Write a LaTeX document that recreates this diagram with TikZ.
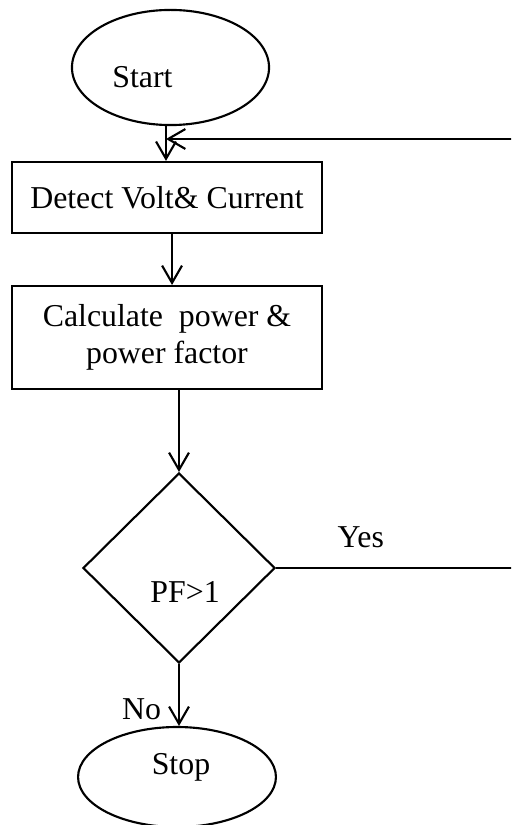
\documentclass[tikz,border=0pt]{standalone}
\usepackage{fontspec}
\setmainfont{Liberation Serif}
\usetikzlibrary{arrows.meta,shapes.geometric}

\begin{document}
\begin{tikzpicture}[x=0.377pt, y=-0.377pt, line width=0.8pt,
  every node/.style={font=\fontsize{12}{13.8}\selectfont},
  term/.style={draw, ellipse, inner sep=0pt},
  box/.style={draw, rectangle, align=center, inner sep=0pt, minimum width=116.9pt},
  decide/.style={draw, diamond, inner sep=0pt, minimum width=72.4pt, minimum height=71.6pt},
  arr/.style={-{Straight Barb[length=6.5pt,width=7.5pt]}}]
\useasboundingbox (0,0) rectangle (511,825);
\clip (0,0) rectangle (511,825);
\node[term, minimum width=74.3pt, minimum height=43.4pt,
  label={[xshift=-10.6pt, yshift=-3.6pt]center:Start}] (st) at (170.5,67.5) {};
\node[box, minimum height=26.8pt] (b1) at (167,197.5) {Detect Volt\& Current};
\node[box, minimum height=38.8pt] (b2) at (167,337.5) {Calculate\ \ power \&\\power factor};
\node[decide, label={[xshift=2.3pt, yshift=-8.9pt]center:PF>1}] (dec) at (179,568) {};
\node[term, minimum width=74.6pt, minimum height=37.7pt,
  label={[xshift=1.5pt, yshift=3.5pt]center:Stop}] (sp) at (177,777) {};
\coordinate (join) at (166,139);
\coordinate (rt) at (518,139);
% main flow
\draw[arr] (st.south -| join) -- (b1.north -| join);
\draw[arr] ([xshift=1.9pt]b1.south) -- ([xshift=1.9pt]b2.north);
\draw[arr] (b2.south -| dec.north) -- (dec.north);
\draw[arr] (dec.south) -- node[left=3pt, pos=0.73] {No} (dec.south |- sp.north);
% loop back
\draw[arr] (dec.east) -- node[above=4pt, pos=0.35] {Yes} (dec.east -| rt) -- (rt) -- (join);
\end{tikzpicture}
\end{document}
